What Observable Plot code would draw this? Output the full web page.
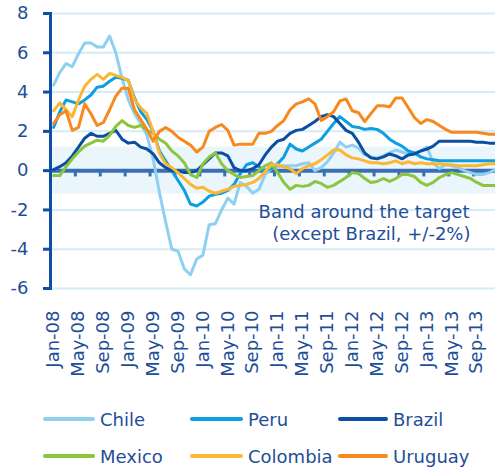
<!DOCTYPE html>
<html><head><meta charset="utf-8">
<script src="https://cdn.jsdelivr.net/npm/d3@7"></script>
<script src="https://cdn.jsdelivr.net/npm/@observablehq/plot@0.6"></script>
<style>
body{margin:0;background:#fff;font-family:"DejaVu Sans",sans-serif;}
#wrap{position:relative;width:495px;height:470px;overflow:hidden;}
#legend{position:absolute;left:0;top:395px;width:495px;height:75px;}
.item{position:absolute;display:flex;align-items:center;height:22px;color:#1f4e99;font-size:18px;white-space:nowrap;}
.sw{height:4px;border-radius:2px;margin-right:5px;}
</style></head><body><div id="wrap"><div id="chart"></div><div id="legend"></div></div>
<script>
const categories = [
 "Jan-08","Feb-08","Mar-08","Apr-08","May-08","Jun-08","Jul-08","Aug-08","Sep-08","Oct-08","Nov-08","Dec-08",
 "Jan-09","Feb-09","Mar-09","Apr-09","May-09","Jun-09","Jul-09","Aug-09","Sep-09","Oct-09","Nov-09","Dec-09",
 "Jan-10","Feb-10","Mar-10","Apr-10","May-10","Jun-10","Jul-10","Aug-10","Sep-10","Oct-10","Nov-10","Dec-10",
 "Jan-11","Feb-11","Mar-11","Apr-11","May-11","Jun-11","Jul-11","Aug-11","Sep-11","Oct-11","Nov-11","Dec-11",
 "Jan-12","Feb-12","Mar-12","Apr-12","May-12","Jun-12","Jul-12","Aug-12","Sep-12","Oct-12","Nov-12","Dec-12",
 "Jan-13","Feb-13","Mar-13","Apr-13","May-13","Jun-13","Jul-13","Aug-13","Sep-13","Oct-13","Nov-13","Dec-13"];

const seriesNames = ["Chile","Peru","Brazil","Mexico","Colombia","Uruguay"];
const seriesColors = ["#8fd0f0","#0d9fdf","#0b4ea2","#8cc63f","#fbb732","#f7891f"];

const chile = [4.35,5.0,5.45,5.3,5.95,6.5,6.5,6.3,6.3,6.85,6.0,4.7,
 3.6,2.9,2.4,1.8,0.6,-1.1,-2.6,-4.0,-4.1,-5.0,-5.3,-4.5,
 -4.3,-2.75,-2.7,-2.0,-1.4,-1.7,-0.6,-0.8,-1.15,-0.95,-0.2,0.1,
 0.2,0.25,0.25,0.25,0.35,0.4,0.0,0.15,0.45,0.9,1.45,1.2,
 1.3,1.15,0.8,0.7,0.65,0.75,0.9,1.05,0.95,0.85,0.9,1.0,
 1.2,0.4,0.1,0.3,0.25,0.15,0.0,-0.1,-0.2,-0.2,-0.1,0.05];
const peru = [2.2,3.0,3.6,3.5,3.4,3.6,3.85,4.25,4.3,4.55,4.75,4.7,
 4.6,3.7,3.0,2.6,2.0,1.0,0.5,0.0,-0.5,-1.0,-1.7,-1.8,
 -1.6,-1.3,-1.2,-1.15,-1.0,-0.7,-0.15,0.3,0.4,0.2,0.0,0.1,
 0.35,0.7,1.35,1.1,1.0,1.2,1.4,1.6,2.0,2.4,2.75,2.5,
 2.25,2.2,2.1,2.15,2.1,1.9,1.6,1.4,1.25,1.0,0.9,0.7,
 0.6,0.55,0.5,0.5,0.5,0.5,0.5,0.5,0.5,0.5,0.5,0.5];
const brazil = [0.05,0.2,0.4,0.75,1.2,1.65,1.9,1.75,1.75,1.9,2.05,1.6,
 1.4,1.45,1.2,1.1,0.85,0.4,0.15,0.0,0.0,-0.1,-0.1,0.0,
 0.3,0.6,0.9,0.9,0.75,0.15,0.0,0.0,0.1,0.3,0.8,1.2,
 1.5,1.6,1.9,2.05,2.1,2.3,2.5,2.75,2.85,2.75,2.4,2.05,
 1.9,1.45,0.9,0.65,0.6,0.7,0.85,0.75,0.6,0.8,0.85,1.0,
 1.1,1.25,1.5,1.5,1.5,1.5,1.5,1.5,1.45,1.45,1.4,1.4];
const mexico = [-0.25,-0.25,0.2,0.6,0.95,1.25,1.4,1.55,1.5,1.8,2.25,2.55,
 2.3,2.2,2.3,2.05,1.9,1.6,1.4,1.0,0.75,0.4,-0.2,-0.35,
 0.35,0.7,0.9,0.35,0.0,-0.2,-0.35,-0.3,-0.25,0.0,0.25,0.4,
 -0.1,-0.6,-0.95,-0.75,-0.8,-0.75,-0.55,-0.65,-0.85,-0.75,-0.55,-0.35,
 -0.1,-0.15,-0.4,-0.6,-0.55,-0.4,-0.55,-0.4,-0.2,-0.2,-0.3,-0.6,
 -0.75,-0.6,-0.35,-0.2,-0.1,-0.2,-0.3,-0.4,-0.6,-0.75,-0.75,-0.75];
const colombia = [3.05,3.45,3.1,2.75,3.6,4.3,4.65,4.9,4.65,4.95,4.85,4.75,
 4.6,3.6,3.2,2.9,2.0,0.9,0.35,0.15,-0.1,-0.4,-0.7,-0.9,
 -0.85,-1.05,-1.15,-1.05,-0.95,-0.8,-0.75,-0.7,-0.6,-0.4,-0.05,0.3,
 0.3,0.2,0.1,-0.15,0.1,0.25,0.35,0.55,0.8,1.05,1.05,0.8,
 0.65,0.6,0.5,0.4,0.4,0.35,0.4,0.5,0.35,0.45,0.35,0.4,
 0.35,0.35,0.35,0.3,0.3,0.25,0.25,0.25,0.25,0.3,0.35,0.35];
const uruguay = [2.4,2.85,3.05,2.05,2.2,3.4,2.9,2.3,2.45,3.1,3.8,4.2,
 4.2,3.1,2.6,2.1,1.5,2.0,2.2,2.0,1.7,1.5,1.3,0.95,
 1.2,2.0,2.2,2.35,2.05,1.3,1.35,1.35,1.35,1.9,1.9,2.0,
 2.3,2.55,3.1,3.4,3.5,3.65,3.4,2.55,2.75,3.0,3.55,3.65,
 3.05,2.95,2.5,2.9,3.3,3.3,3.25,3.7,3.7,3.2,2.7,2.4,
 2.6,2.5,2.3,2.1,1.95,1.95,1.95,1.95,1.95,1.9,1.85,1.85];

const seriesValues = [chile, peru, brazil, mexico, colombia, uruguay];
const yTicks = [-6,-4,-2,0,2,4,6,8];
const gridValues = [-6,-4,-2,2,4,6,8];
const xTickIdx = [0,4,8,12,16,20,24,28,32,36,40,44,48,52,56,60,64,68];
const bandLimits = [{lo:-1.2, hi:1.2}];
const annotLines = ["Band around the target","(except Brazil, +/-2%)"];

const rows = [];
seriesNames.forEach((name, s) => seriesValues[s].forEach((v, i) => rows.push({country:name, i, v})));
const boundaries = xTickIdx.slice(1).map(i => i - 0.5);

const textColor = "#1f4e99";
const chart = Plot.plot({
  width: 495, height: 395,
  marginTop: 13, marginBottom: 107, marginLeft: 50, marginRight: 0,
  style: {fontFamily: "DejaVu Sans", fontSize: "18px", color: textColor, background: "#fff", overflow: "visible"},
  x: {type: "linear", domain: [-0.5, 71.5], range: [50, 498]},
  y: {domain: [-6, 8]},
  color: {domain: seriesNames, range: seriesColors},
  marks: [
    Plot.rect(bandLimits, {y1: "lo", y2: "hi", fill: "#eaf5fc"}),
    Plot.ruleY(gridValues, {stroke: "#d4ebf8", strokeWidth: 2}),
    Plot.ruleY([0], {stroke: "#3b6fb5", strokeWidth: 4}),
    Plot.ruleX(boundaries, {y1: 0, y2: -0.32, stroke: "#3b6fb5", strokeWidth: 3}),
    Plot.axisY({ticks: yTicks, tickSize: 7, tickPadding: 15, strokeWidth: 3, stroke: "#0d4ea6",
      tickFormat: d => String(d), label: null, fill: textColor}),
    Plot.frame({anchor: "left", stroke: "#0d4ea6", strokeWidth: 3}),
    Plot.axisX({ticks: xTickIdx, tickFormat: i => categories[i], tickRotate: -90, tickSize: 0,
      tickPadding: 22, label: null, fill: textColor}),
    Plot.lineY(rows, {x: "i", y: "v", z: "country", stroke: "country", strokeWidth: 3,
      strokeLinejoin: "round", strokeLinecap: "round"}),
    Plot.text([annotLines[0]], {frameAnchor: "top-right", dx: -26, dy: 192, textAnchor: "end", fill: textColor, fontSize: 18}),
    Plot.text([annotLines[1]], {frameAnchor: "top-right", dx: -25, dy: 214, textAnchor: "end", fill: textColor, fontSize: 18})
  ]
});
document.getElementById("chart").appendChild(chart);

// legend
const legendPos = [
  {left: 43, w: 52, top: 13}, {left: 190, w: 53, top: 13}, {left: 338, w: 50, top: 13},
  {left: 43, w: 52, top: 50}, {left: 190, w: 53, top: 50}, {left: 338, w: 50, top: 50}
];
const legend = document.getElementById("legend");
seriesNames.forEach((name, k) => {
  const p = legendPos[k];
  const item = document.createElement("div");
  item.className = "item";
  item.style.left = p.left + "px";
  item.style.top = p.top + "px";
  const sw = document.createElement("span");
  sw.className = "sw";
  sw.style.width = p.w + "px";
  sw.style.background = seriesColors[k];
  const tx = document.createElement("span");
  tx.textContent = name;
  item.appendChild(sw); item.appendChild(tx);
  legend.appendChild(item);
});
</script></body></html>
